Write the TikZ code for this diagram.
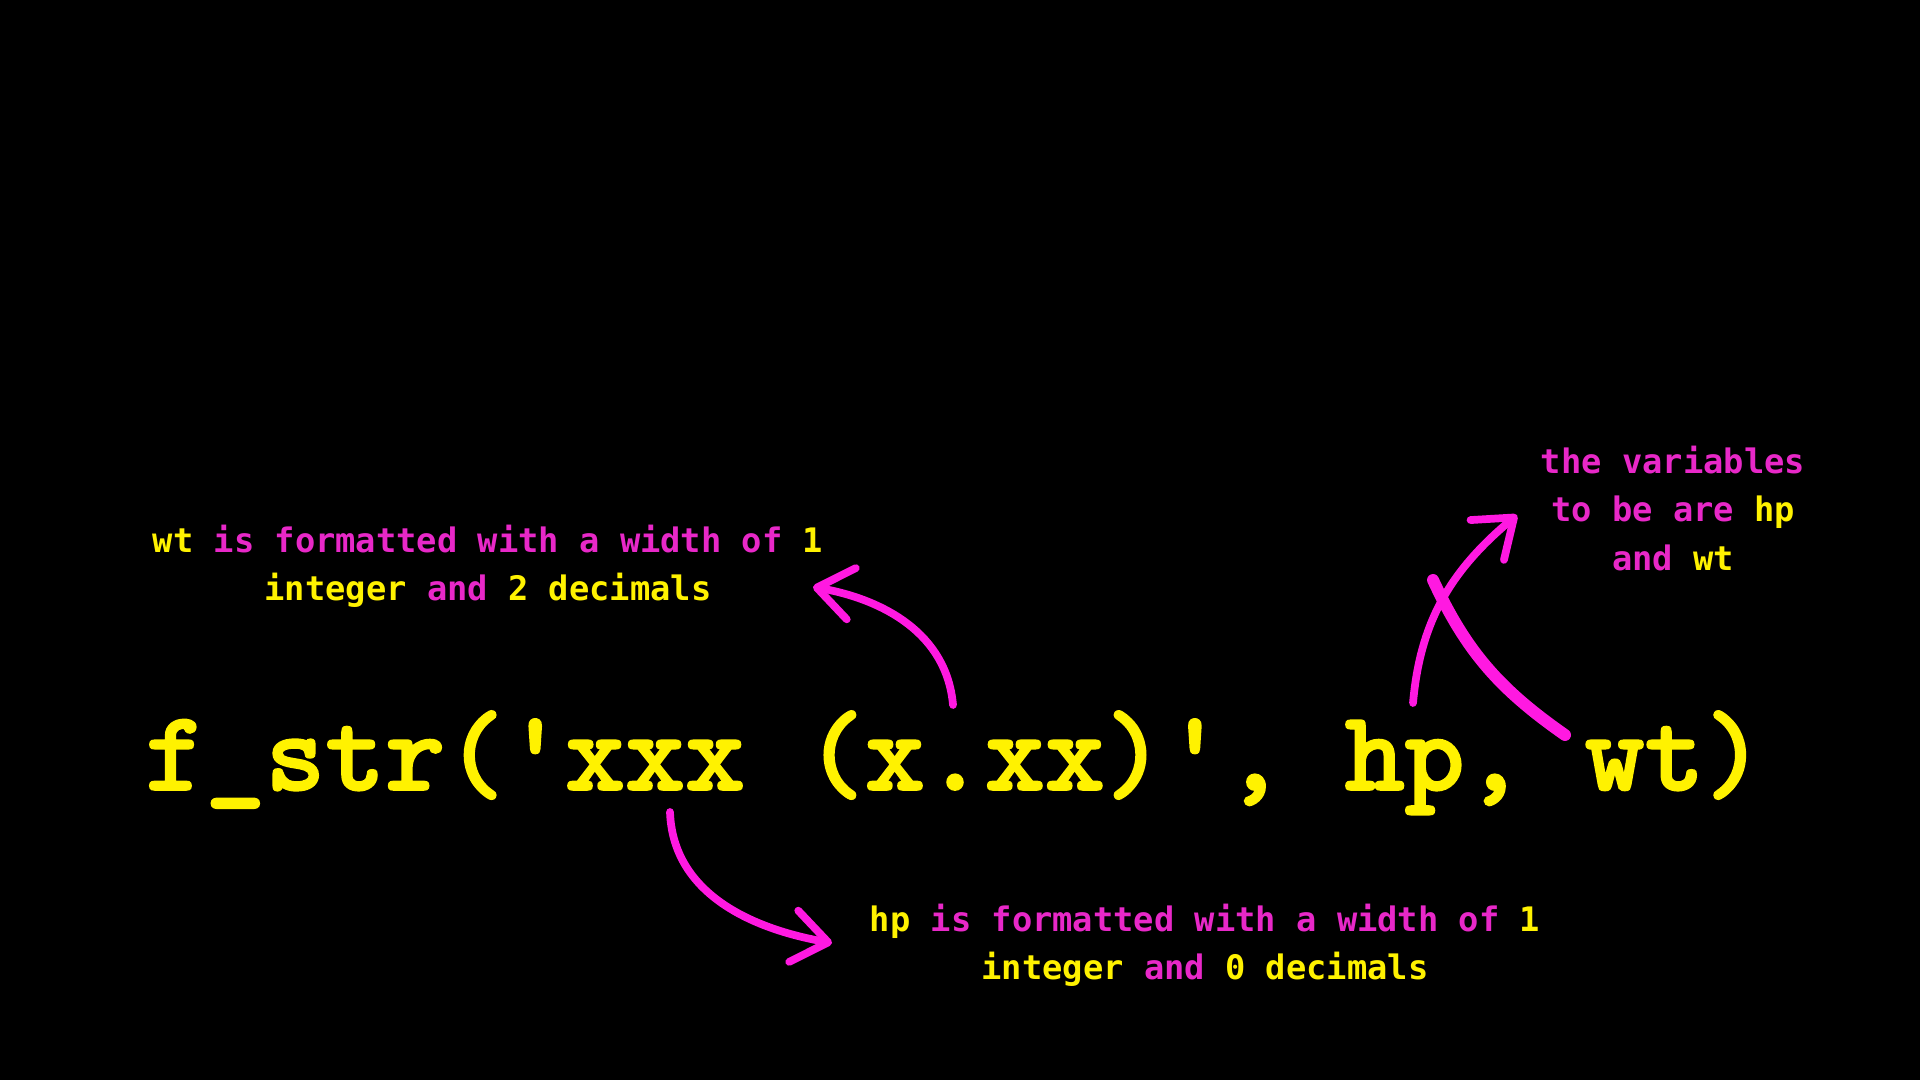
\documentclass[tikz,border=0pt]{standalone}
\usepackage{fontspec}
\usetikzlibrary{arrows.meta}
\newfontfamily\notefont{DejaVu Sans Mono}
\newfontfamily\codefont{lmmonolt10-bold.otf}[FakeBold=1.6]
\definecolor{codeyellow}{RGB}{255,242,0}
\definecolor{notepink}{RGB}{232,40,200}
\definecolor{arrowpink}{RGB}{255,25,225}
\newcommand{\yw}[1]{\textcolor{codeyellow}{#1}}

\begin{document}
\begin{tikzpicture}[ >={Straight Barb[length=3.5mm,width=5.2mm,round]},
  note/.style={align=center, inner sep=0pt, anchor=north, text=notepink,
    font=\notefont\bfseries\fontsize{9.6}{13.9}\selectfont},
  pointer/.style={->, draw=arrowpink, line width=2.2pt, line cap=round} ]

\fill[black] (0,0) rectangle (19.2,10.8);
\useasboundingbox (0,0) rectangle (19.2,10.8);

\node[anchor=base, inner sep=0pt, text=codeyellow, font=\codefont\fontsize{32.5}{34}\selectfont] (call) at (9.55,2.90) {f\_str(\char39 xxx (x.xx)\char39, hp, wt)};

\node[note] (wtnote) at (4.88,5.56) {\yw{wt} is formatted with a width of \yw{1}\\ \yw{integer} and \yw{2 decimals}};
\node[note] (hpnote) at (12.05,1.77) {\yw{hp} is formatted with a width of \yw{1}\\ \yw{integer} and \yw{0 decimals}};
\node[note] (varnote) at (16.73,6.35) {the variables\\ to be are \yw{hp}\\ and \yw{wt}};

\coordinate (wtTail) at (9.53,3.75);
\coordinate (wtTip) at (8.13,4.93);
\coordinate (hpTail) at (6.70,2.68);
\coordinate (hpTip) at (8.32,1.37);
\coordinate (varTail) at (14.13,3.77);
\coordinate (varTip) at (15.17,5.65);
\coordinate (strokeTop) at (14.33,5.00);
\coordinate (strokeEnd) at (15.65,3.45);

\draw[pointer] (wtTail) to[out=95, in=-10] (wtTip);
\draw[pointer] (hpTail) to[out=-88, in=170] (hpTip);
\draw[pointer] (varTail) to[out=85, in=-140] (varTip);
\draw[arrowpink, line width=3.4pt, line cap=round] (strokeTop) to[out=-65, in=145] (strokeEnd);

\end{tikzpicture}
\end{document}
